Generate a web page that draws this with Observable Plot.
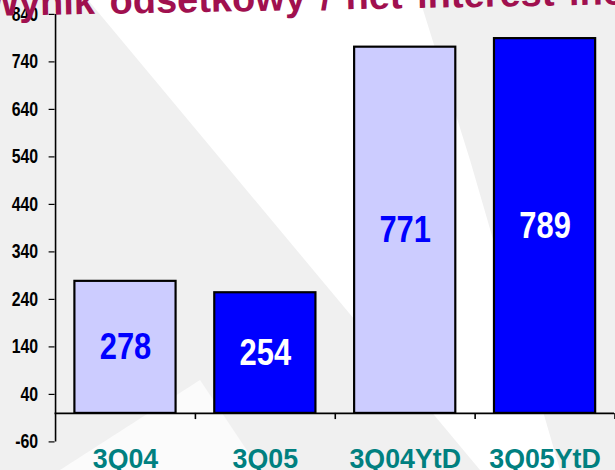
<!DOCTYPE html>
<html>
<head>
<meta charset="utf-8">
<script src="https://cdn.jsdelivr.net/npm/d3@7"></script>
<script src="https://cdn.jsdelivr.net/npm/@observablehq/plot@0.6"></script>
<style>
  html, body { margin: 0; padding: 0; overflow: hidden; width: 615px; height: 470px; background: #f0f0f0; }
  #wrap { position: relative; width: 615px; height: 470px; overflow: hidden; }
  #bg1 { position: absolute; left: 0; top: 0; width: 615px; height: 470px; background: #ffffff;
         clip-path: polygon(88px 0px, 420px 0px, 470px 160px, 560px 470px, 480px 470px); }
  #bg2 { position: absolute; left: 0; top: 0; width: 615px; height: 470px; background: #fbfbfb;
         clip-path: polygon(60px 470px, 200px 380px, 260px 470px); }
  #title { position: absolute; left: -16px; top: -16px; white-space: nowrap; line-height: 38px; word-spacing: 4px;
           font-family: "Liberation Sans", Arial, sans-serif; font-weight: bold; font-size: 38px; color: #a0104f;
           transform-origin: 0px 32px; transform: rotate(-1.05deg); }
  #chart { position: absolute; left: 0; top: 0; }
</style>
</head>
<body>
<div id="wrap">
  <div id="bg1"></div>
  <div id="bg2"></div>
  <div id="chart"></div>
  <div id="title">Wynik odsetkowy / net interest income</div>
</div>
<script>
const categories = ["3Q04", "3Q05", "3Q04YtD", "3Q05YtD"];
const values = [278, 254, 771, 789];
const fills = ["#ccccff", "#0000ff", "#ccccff", "#0000ff"];
const labelColors = ["#0000ff", "#ffffff", "#0000ff", "#ffffff"];
const yTicks = [-60, 40, 140, 240, 340, 440, 540, 640, 740, 840];

const data = categories.map((c, i) => ({cat: c, value: values[i], fill: fills[i], lc: labelColors[i]}));

const sans = "'Liberation Sans', Arial, sans-serif";
const halfStep = 70.5;

const chart = Plot.plot({
  width: 620,
  height: 470,
  marginLeft: 55,
  marginRight: 1,
  marginTop: 14,
  marginBottom: 25,
  style: {background: "transparent", overflow: "visible"},
  x: {domain: categories, paddingInner: 0.28, paddingOuter: 0.14, axis: null, label: null},
  y: {domain: [-60, 840], axis: null, label: null},
  marks: [
    Plot.barY(data, {x: "cat", y: "value", fill: "fill", stroke: "#000", strokeWidth: 2.2}),
    Plot.ruleY([0], {stroke: "#000", strokeWidth: 1.6}),
    Plot.ruleX([categories[0]], {dx: -halfStep, y1: -60, y2: 840, stroke: "#000", strokeWidth: 1.6}),
    Plot.ruleX(categories, {dx: halfStep, y1: 0, y2: -13, stroke: "#000", strokeWidth: 1.6}),
    Plot.axisY({ticks: yTicks, tickSize: 6, tickPadding: 11, tickFormat: d => String(d), label: null,
      className: "yax", fontFamily: sans, fontWeight: "bold", fontSize: 20, fill: "#000", stroke: "#000", strokeWidth: 1.2,
      color: "#000"}),
    Plot.text(data, {x: "cat", y: d => d.value / 2, text: d => String(d.value), fill: "lc",
      className: "vlab", fontFamily: sans, fontWeight: "bold", fontSize: 38}),
    Plot.axisX({tickSize: 0, tickPadding: 0, dy: 7, label: null, fontFamily: sans,
      fontWeight: "bold", fontSize: 27, fill: "#008080", anchor: "bottom"})
  ]
});
document.getElementById("chart").appendChild(chart);

// condense narrow-font texts (emulating Arial Narrow)
function condense(sel, s, anchor) {
  chart.querySelectorAll(sel).forEach(t => {
    const bb = t.getBBox();
    const ax = anchor === "end" ? bb.x + bb.width : bb.x + bb.width / 2;
    const prev = t.getAttribute("transform") || "";
    t.setAttribute("transform", `${prev} translate(${ax},0) scale(${s},1) translate(${-ax},0)`);
  });
}
condense(".yax text", 0.8, "end");
condense(".vlab text", 0.82, "middle");
</script>
</body>
</html>
